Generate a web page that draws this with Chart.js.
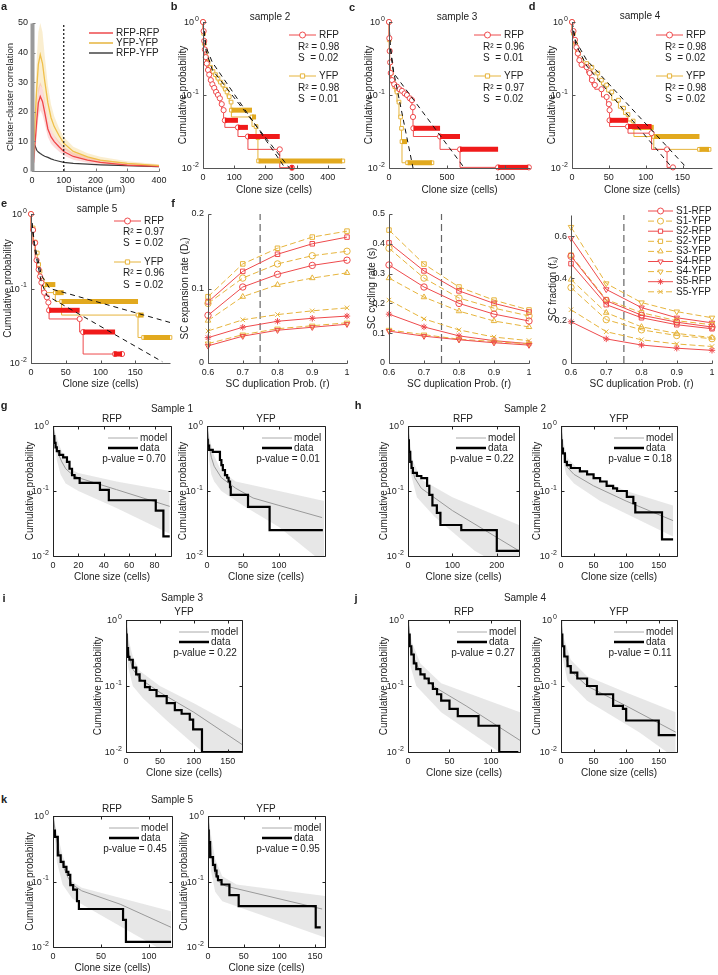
<!DOCTYPE html>
<html>
<head>
<meta charset="utf-8">
<script src="https://cdn.jsdelivr.net/npm/chart.js@4.4.1/dist/chart.umd.min.js"></script>
<style>
  body { margin: 0; background: #fff; width: 718px; height: 975px; position: relative; overflow: hidden;
         font-family: 'Liberation Sans', Arial, Helvetica, sans-serif; color: #222; }
  canvas { position: absolute; }
  .txt { position: absolute; white-space: nowrap; transform: translate(-50%, -50%); font-size: 10px; }
  .letter { position: absolute; font-size: 11px; font-weight: bold; transform: translate(-50%, -50%); }
</style>
</head>
<body>
<script>
// ---------- panel a: cluster-cluster correlation ----------
const distance   = [0, 5, 10, 15, 20, 26, 33, 40, 50, 60, 70, 85, 100, 130, 175, 215, 300, 400];
const rfpRfp     = [0.5, 3, 10, 17, 23, 25.2, 23.5, 19.8, 14.2, 11.5, 9.9, 8.2, 6.6, 4.9, 3.7, 2.9, 2.0, 1.6];
const rfpRfpHi   = [1, 5, 14, 22, 28, 30, 28, 24, 17.5, 14, 12, 10, 8.2, 6.2, 4.8, 3.8, 2.7, 2.1];
const rfpRfpLo   = [0, 1.2, 6, 12, 18, 20.5, 19, 16, 11.5, 9.2, 8, 6.6, 5.2, 3.8, 2.8, 2.2, 1.5, 1.2];
const yfpYfp     = [0.5, 6, 18, 28, 36, 39.3, 36.4, 30.5, 23, 18, 15, 12, 9.4, 6.6, 4.8, 3.7, 2.6, 1.8];
const yfpYfpHi   = [1, 9, 25, 38, 47, 50, 47, 39, 29, 22.5, 18.5, 14.5, 11.5, 8.2, 6, 4.8, 3.3, 2.3];
const yfpYfpLo   = [0, 3, 12, 19, 26, 29, 28, 23, 17.5, 14, 11.8, 9.5, 7.4, 5.2, 3.8, 2.9, 2, 1.4];
const rfpYfp     = [10.2, 9.2, 8.4, 7, 6.4, 5.9, 5.4, 5, 4.6, 4.1, 3.7, 3.3, 2.9, 2.6, 2.3, 2.1, 1.8, 1.5];
const distanceCutoff = 100;

// ---------- panels b-e: clone size distributions [size, cumulative prob] ----------
const s2Rfp = [[0,1],[2,0.75],[4,0.55],[6,0.42],[9,0.33],[12,0.27],[16,0.22],[20,0.19],[25,0.16],[30,0.14],[36,0.125],[42,0.11],[48,0.1],[54,0.09],[60,0.075],[66,0.062],[70,0.045],[112,0.036],[144,0.027],[246,0.018],[285,0.0101]];
const s2RfpBars = [[70,112,0.045],[112,144,0.036],[144,246,0.027],[280,290,0.0101]];
const s2Yfp = [[0,1],[2,0.7],[4,0.51],[8,0.38],[12,0.32],[16,0.28],[24,0.24],[32,0.21],[40,0.19],[48,0.17],[56,0.15],[64,0.137],[72,0.12],[77,0.11],[84,0.095],[90,0.08],[91,0.062],[157,0.05],[170,0.037],[176,0.026],[178,0.0125],[448,0.0125]];
const s2YfpBars = [[91,157,0.062],[157,170,0.05],[178,446,0.0125]];
const s2Fits = [[[0,1],[10,0.4],[30,0.22],[290,0.0085]], [[0,1],[10,0.45],[30,0.28],[263,0.01]]];

const s3Rfp = [[0,1],[3,0.6],[6,0.4],[10,0.28],[15,0.2],[26,0.16],[45,0.14],[69,0.13],[90,0.12],[112,0.114],[135,0.105],[155,0.1],[180,0.09],[198,0.085],[205,0.068],[207,0.05],[210,0.035],[440,0.027],[612,0.018],[940,0.0102],[1205,0.0102]];
const s3RfpBars = [[210,440,0.035],[440,612,0.027],[612,940,0.018],[940,1200,0.0102]];
const s3Yfp = [[0,1],[2,0.57],[5,0.4],[10,0.28],[20,0.2],[35,0.15],[50,0.13],[69,0.11],[86,0.08],[100,0.05],[108,0.035],[112,0.023],[160,0.0118],[370,0.0118]];
const s3YfpBars = [[112,155,0.023],[160,370,0.0118]];
const s3Fits = [[[0,1],[8,0.5],[30,0.25],[207,0.01]], [[0,1],[10,0.5],[40,0.2],[660,0.0095]]];

const s4Rfp = [[0,1],[2,0.75],[4,0.57],[6,0.45],[8,0.37],[10,0.3],[13,0.26],[20,0.24],[24,0.2],[27,0.16],[31,0.137],[40,0.12],[47,0.094],[50,0.075],[51,0.062],[51,0.045],[76,0.037],[108,0.03],[129,0.018],[137,0.0102]];
const s4RfpBars = [[51,76,0.045],[76,108,0.037]];
const s4Yfp = [[0,1],[2,0.7],[5,0.5],[9,0.37],[13,0.3],[20,0.27],[27,0.24],[35,0.2],[40,0.16],[47,0.137],[54,0.11],[63,0.085],[70,0.066],[76,0.054],[83,0.044],[84,0.036],[111,0.027],[173,0.018],[186,0.018]];
const s4YfpBars = [[84,111,0.036],[111,173,0.027],[173,186,0.018]];
const s4Fits = [[[0,1],[5,0.5],[20,0.25],[138,0.0095]], [[0,1],[5,0.55],[20,0.3],[158,0.0095]]];

const s5Rfp = [[0,1],[3,0.61],[6,0.41],[8,0.24],[11,0.18],[13,0.145],[15,0.12],[19,0.088],[23,0.076],[25,0.065],[26,0.051],[70,0.039],[75,0.026],[121,0.0132],[131,0.0132]];
const s5RfpBars = [[26,70,0.051],[75,121,0.026],[119,131,0.0132]];
const s5Yfp = [[0,1],[3,0.65],[6,0.42],[9,0.3],[11,0.21],[13,0.17],[16,0.13],[20,0.113],[35,0.088],[44,0.067],[154,0.044],[162,0.022],[200,0.022]];
const s5YfpBars = [[20,35,0.113],[35,47,0.088],[44,154,0.067],[154,162,0.044],[162,200,0.022]];
const s5Fits = [[[0,1],[5,0.4],[15,0.15],[27,0.1],[200,0.035]], [[0,1],[5,0.35],[15,0.12],[23,0.08],[189,0.0104]]];

// ---------- panel f: model parameters vs SC duplication probability ----------
const duplicationProb = [0.6, 0.7, 0.8, 0.9, 1.0];
const fLabels = ['S1-RFP', 'S1-YFP', 'S2-RFP', 'S2-YFP', 'S3-YFP', 'S4-RFP', 'S4-YFP', 'S5-RFP', 'S5-YFP'];
const expansionRate = [
  [0.064, 0.102, 0.119, 0.131, 0.138],
  [0.080, 0.114, 0.133, 0.144, 0.150],
  [0.082, 0.123, 0.146, 0.160, 0.169],
  [0.089, 0.133, 0.154, 0.169, 0.177],
  [0.057, 0.089, 0.105, 0.114, 0.121],
  [0.023, 0.036, 0.044, 0.048, 0.052],
  [0.026, 0.038, 0.046, 0.050, 0.054],
  [0.034, 0.048, 0.056, 0.060, 0.063],
  [0.043, 0.058, 0.065, 0.070, 0.074]
];
const cyclingRate = [
  [0.329, 0.255, 0.200, 0.164, 0.141],
  [0.385, 0.285, 0.218, 0.184, 0.158],
  [0.403, 0.309, 0.242, 0.200, 0.171],
  [0.446, 0.332, 0.255, 0.211, 0.178],
  [0.285, 0.221, 0.174, 0.141, 0.121],
  [0.107, 0.090, 0.078, 0.068, 0.060],
  [0.111, 0.095, 0.080, 0.072, 0.064],
  [0.164, 0.121, 0.091, 0.075, 0.065],
  [0.211, 0.148, 0.111, 0.087, 0.075]
];
const scFraction = [
  [0.505, 0.295, 0.226, 0.193, 0.170],
  [0.357, 0.205, 0.157, 0.130, 0.115],
  [0.470, 0.276, 0.214, 0.181, 0.162],
  [0.510, 0.300, 0.238, 0.200, 0.181],
  [0.395, 0.238, 0.171, 0.140, 0.120],
  [0.590, 0.348, 0.262, 0.214, 0.190],
  [0.643, 0.376, 0.286, 0.243, 0.214],
  [0.195, 0.114, 0.085, 0.070, 0.060],
  [0.252, 0.148, 0.110, 0.090, 0.078]
];
const duplicationCutoff = 0.75;

// ---------- panels g-k: model vs data [size, cumulative prob] ----------
const g1Data  = [[0,1],[1,0.7],[2,0.55],[3,0.47],[5,0.41],[8,0.36],[11,0.33],[13,0.28],[15,0.22],[17,0.176],[21,0.158],[37,0.133],[44,0.104],[81,0.072],[87,0.05],[92,0.02]];
const g1Model = [[0,1],[2,0.55],[4,0.38],[7,0.28],[10,0.22],[15,0.18],[20,0.16],[50,0.105],[92,0.058]];
const g1Hi    = [[0,1],[5,0.5],[10,0.3],[15,0.21],[20,0.19],[50,0.14],[92,0.1]];
const g1Lo    = [[0,1],[3,0.3],[6,0.18],[10,0.13],[20,0.1],[50,0.055],[92,0.022]];

const g2Data  = [[0,1],[1,0.61],[3,0.5],[8,0.43],[18,0.4],[20,0.3],[22,0.25],[25,0.21],[28,0.176],[30,0.16],[32,0.14],[33,0.115],[57,0.087],[87,0.057],[161,0.025]];
const g2Model = [[0,1],[3,0.5],[6,0.33],[10,0.24],[20,0.16],[40,0.11],[64,0.078],[100,0.06],[160,0.039]];
const g2Hi    = [[0,1],[5,0.55],[10,0.35],[20,0.2],[40,0.14],[100,0.1],[163,0.07]];
const g2Lo    = [[0,1],[3,0.3],[6,0.18],[10,0.14],[20,0.1],[50,0.06],[100,0.028],[150,0.01],[163,0.008]];

const h1Data  = [[0,1],[2,0.6],[5,0.4],[8,0.28],[11,0.226],[20,0.19],[30,0.17],[43,0.158],[48,0.12],[55,0.087],[65,0.06],[73,0.046],[120,0.03],[200,0.025],[250,0.012]];
const h1Model = [[0,1],[3,0.5],[8,0.25],[15,0.16],[30,0.11],[100,0.05],[250,0.012]];
const h1Hi    = [[0,1],[10,0.3],[30,0.15],[100,0.08],[250,0.03]];
const h1Lo    = [[0,1],[5,0.2],[20,0.08],[60,0.04],[150,0.012],[250,0.005]];

const h2Data  = [[0,1],[1,0.6],[3,0.45],[6,0.38],[9,0.28],[15,0.25],[29,0.226],[40,0.2],[50,0.18],[60,0.158],[70,0.14],[80,0.12],[86,0.11],[101,0.1],[111,0.081],[114,0.065],[155,0.047],[172,0.018]];
const h2Model = [[0,1],[3,0.45],[6,0.3],[10,0.23],[20,0.18],[50,0.12],[100,0.07],[172,0.035]];
const h2Hi    = [[0,1],[5,0.5],[10,0.32],[30,0.2],[100,0.1],[172,0.06]];
const h2Lo    = [[0,1],[3,0.3],[8,0.18],[20,0.13],[60,0.07],[172,0.02]];

const iData   = [[0,1],[1,0.6],[3,0.376],[5,0.276],[10,0.25],[15,0.19],[20,0.15],[28,0.12],[35,0.096],[45,0.087],[60,0.07],[72,0.055],[82,0.043],[94,0.038],[99,0.031],[112,0.022],[171,0.01]];
const iModel  = [[0,1],[3,0.4],[6,0.25],[10,0.18],[20,0.13],[50,0.08],[100,0.04],[171,0.013]];
const iHi     = [[0,1],[5,0.45],[10,0.28],[20,0.17],[50,0.1],[100,0.055],[171,0.022]];
const iLo     = [[0,1],[3,0.2],[10,0.1],[25,0.065],[60,0.03],[113,0.01],[171,0.004]];

const j1Data  = [[0,1],[2,0.6],[4,0.4],[7,0.3],[10,0.22],[15,0.18],[20,0.15],[25,0.13],[30,0.11],[35,0.09],[40,0.075],[50,0.06],[60,0.045],[85,0.035],[110,0.025],[133,0.01]];
const j1Model = [[0,1],[3,0.45],[8,0.25],[15,0.16],[30,0.1],[70,0.05],[135,0.015]];
const j1Hi    = [[0,1],[5,0.45],[15,0.22],[40,0.11],[135,0.04]];
const j1Lo    = [[0,1],[3,0.2],[10,0.1],[40,0.04],[110,0.01],[135,0.006]];

const j2Data  = [[0,1],[2,0.6],[5,0.4],[10,0.28],[15,0.2],[25,0.16],[40,0.13],[55,0.1],[80,0.075],[95,0.05],[100,0.045],[150,0.03],[176,0.018]];
const j2Model = [[0,1],[3,0.45],[8,0.25],[15,0.17],[40,0.1],[100,0.05],[176,0.02]];
const j2Hi    = [[0,1],[5,0.5],[15,0.25],[40,0.14],[100,0.08],[176,0.04]];
const j2Lo    = [[0,1],[3,0.25],[10,0.12],[40,0.06],[120,0.02],[176,0.008]];

const k1Data  = [[0,1],[2,0.6],[5,0.48],[8,0.25],[11,0.2],[14,0.167],[16,0.14],[18,0.126],[21,0.088],[25,0.075],[27,0.05],[73,0.038],[76,0.026],[123,0.012]];
const k1Model = [[0,1],[3,0.5],[6,0.3],[10,0.18],[15,0.12],[20,0.09],[30,0.072],[70,0.045],[123,0.02]];
const k1Hi    = [[0,1],[5,0.5],[10,0.25],[20,0.1],[30,0.08],[123,0.035]];
const k1Lo    = [[0,1],[4,0.2],[10,0.09],[20,0.055],[30,0.045],[108,0.01],[123,0.008]];

const k2Data  = [[0,1],[1,0.6],[3,0.4],[7,0.236],[10,0.18],[12,0.147],[14,0.12],[19,0.105],[30,0.09],[43,0.062],[151,0.042],[158,0.02]];
const k2Model = [[0,1],[3,0.4],[6,0.2],[10,0.13],[15,0.1],[25,0.085],[160,0.038]];
const k2Hi    = [[0,1],[5,0.45],[10,0.22],[20,0.12],[40,0.09],[164,0.06]];
const k2Lo    = [[0,1],[4,0.15],[10,0.07],[20,0.05],[164,0.014]];

const LOG_TICKS = [0.01, 0.1, 1];

// ---------- styling ----------
const FONT = "'Liberation Sans', Arial, Helvetica, sans-serif";
const RED = '#ee4a4c', YEL = '#e6b43c', RED_BAR = '#f01a1a', YEL_BAR = '#e2a91e';
const BAND = 'rgba(212,212,212,0.55)';

Chart.defaults.font.family = FONT;
Chart.defaults.font.size = 9;
Chart.defaults.color = '#222';

// axes drawn by hand: left/bottom (or full box), inward ticks, tick labels and titles
function drawPow(ctx, v, xRight, y) {
  const exp = String(Math.round(Math.log10(v)));
  ctx.font = `7px ${FONT}`;
  const ew = ctx.measureText(exp).width;
  ctx.font = `9px ${FONT}`;
  const bw = ctx.measureText('10').width;
  ctx.textAlign = 'left';
  ctx.fillText('10', xRight - ew - bw - 1, y + 1);
  ctx.font = `7px ${FONT}`;
  ctx.fillText(exp, xRight - ew, y - 3);
}

const framePlugin = {
  id: 'frame',
  afterDraw(chart, args, o) {
    const { ctx, chartArea: a, scales: { x, y } } = chart;
    const L = Math.round(a.left) + 0.5, R = Math.round(a.right) + 0.5;
    const T = Math.round(a.top) + 0.5, B = Math.round(a.bottom) + 0.5;
    ctx.save();
    ctx.strokeStyle = o.color || '#555';
    ctx.lineWidth = 1;
    ctx.beginPath();
    ctx.moveTo(L, B); ctx.lineTo(R, B);
    if (o.box) { ctx.moveTo(L, T); ctx.lineTo(R, T); ctx.moveTo(R, T); ctx.lineTo(R, B); }
    x.ticks.forEach(t => {
      const px = Math.round(x.getPixelForValue(t.value)) + 0.5;
      ctx.moveTo(px, B); ctx.lineTo(px, B - 3);
      if (o.box) { ctx.moveTo(px, T); ctx.lineTo(px, T + 3); }
    });
    y.ticks.forEach(t => {
      const py = Math.round(y.getPixelForValue(t.value)) + 0.5;
      ctx.moveTo(L, py); ctx.lineTo(L + 3, py);
      if (o.box) { ctx.moveTo(R, py); ctx.lineTo(R - 3, py); }
    });
    ctx.stroke();
    ctx.beginPath();
    ctx.lineWidth = o.leftWidth || 1;
    ctx.strokeStyle = o.leftColor || o.color || '#555';
    ctx.moveTo(L, T); ctx.lineTo(L, B);
    ctx.stroke();

    // tick labels
    ctx.fillStyle = '#222';
    ctx.textBaseline = 'middle';
    ctx.font = `9px ${FONT}`;
    ctx.textAlign = 'center';
    x.ticks.forEach(t => ctx.fillText(String(t.value), x.getPixelForValue(t.value), a.bottom + 10));
    y.ticks.forEach(t => {
      const py = y.getPixelForValue(t.value);
      if (o.log) drawPow(ctx, t.value, a.left - 4, py);
      else { ctx.font = `9px ${FONT}`; ctx.textAlign = 'right'; ctx.fillText(String(t.value), a.left - 4, py); }
    });

    // axis titles
    ctx.font = `${o.titleSize || 10}px ${FONT}`;
    ctx.textAlign = 'center';
    if (o.xTitle) ctx.fillText(o.xTitle, (a.left + a.right) / 2, a.bottom + o.xOff);
    if (o.yTitle) {
      ctx.translate(a.left - o.yOff, (a.top + a.bottom) / 2);
      ctx.rotate(-Math.PI / 2);
      ctx.fillText(o.yTitle, 0, 0);
    }
    ctx.restore();
  }
};

// legend entries drawn relative to the plot box (x from right edge, y from top edge)
const legendPlugin = {
  id: 'panelLegend',
  afterDraw(chart, args, o) {
    if (!o || !o.items) return;
    const { ctx, chartArea: a } = chart;
    ctx.save();
    ctx.font = `${o.size || 10}px ${FONT}`;
    ctx.textBaseline = 'middle';
    o.items.forEach(it => {
      const y = a.top + it.y;
      if (it.color) {
        ctx.strokeStyle = it.color;
        ctx.lineWidth = it.width || 1;
        ctx.setLineDash(it.dash || []);
        ctx.beginPath();
        ctx.moveTo(a.right + o.x0, y); ctx.lineTo(a.right + o.x1, y);
        ctx.stroke();
        ctx.setLineDash([]);
        if (it.marker) {
          ctx.fillStyle = '#fff';
          ctx.lineWidth = 1;
          Chart.helpers.drawPoint(ctx, { pointStyle: it.marker, radius: 3, rotation: it.rot || 0, borderWidth: 1 },
            a.right + (o.x0 + o.x1) / 2, y);
        }
      }
      ctx.fillStyle = '#222';
      ctx.textAlign = it.align || 'left';
      ctx.fillText(it.text, a.right + (it.x !== undefined ? it.x : o.tx), y);
    });
    ctx.restore();
  }
};

Chart.register(framePlugin, legendPlugin);

function ptsOf(arr) { return arr.map(([x, y]) => ({ x, y })); }
function zip(xs, ys) { return xs.map((x, i) => ({ x, y: ys[i] })); }

// scales take no room: the plot box is fixed by the layout padding
function axis(isX, min, max, ticks, log) {
  return {
    type: log ? 'logarithmic' : 'linear',
    position: isX ? 'bottom' : 'left',
    min, max,
    afterBuildTicks: s => { s.ticks = ticks.map(v => ({ value: v })); },
    afterFit: s => {
      if (isX) s.height = 0; else s.width = 0;
      s.paddingLeft = s.paddingRight = s.paddingTop = s.paddingBottom = 0;
    },
    ticks: { display: false },
    grid: { display: false },
    border: { display: false },
    title: { display: false }
  };
}

function plot(box, o) {
  const [l, t, r, b] = box;
  const ml = Math.min(l, 40), mt = Math.min(t, 16), mr = Math.min(718 - r, 10), mb = 32;
  const w = r - l + ml + mr, h = b - t + mt + mb;
  const cv = document.createElement('canvas');
  cv.width = w; cv.height = h;
  Object.assign(cv.style, { left: (l - ml) + 'px', top: (t - mt) + 'px', width: w + 'px', height: h + 'px' });
  document.body.appendChild(cv);
  return new Chart(cv, {
    type: 'line',
    data: { datasets: o.datasets },
    options: {
      responsive: false, animation: false, devicePixelRatio: 1,
      layout: { padding: { top: mt, right: mr, left: ml, bottom: mb } },
      elements: { line: { tension: 0 } },
      plugins: {
        legend: { display: false }, tooltip: { enabled: false },
        frame: o.frame || {}, panelLegend: o.legend || {}
      },
      scales: { x: o.x, y: o.y }
    }
  });
}

function text(str, x, y, cls) {
  const d = document.createElement('div');
  d.className = cls || 'txt';
  d.textContent = str;
  d.style.left = x + 'px'; d.style.top = y + 'px';
  document.body.appendChild(d);
}

// ---------- panel a ----------
function band(hi, lo, color) {
  return [
    { data: zip(distance, hi), fill: '+1', backgroundColor: color, borderWidth: 0, pointRadius: 0, order: 5 },
    { data: zip(distance, lo), fill: false, borderWidth: 0, pointRadius: 0, order: 5 }
  ];
}
plot([32, 23, 159, 171], {
  x: axis(true, 0, 400, [0, 100, 200, 300, 400]),
  y: axis(false, 0, 50, [0, 10, 20, 30, 40, 50]),
  frame: { color: '#777', leftWidth: 4, leftColor: '#9a9a9a', titleSize: 9.5,
           xTitle: 'Distance (μm)', xOff: 18, yTitle: 'Cluster-cluster correlation', yOff: 22 },
  legend: { x0: -70, x1: -46, tx: -43, items: [
    { y: 10, color: RED, width: 1.5, text: 'RFP-RFP' },
    { y: 20, color: YEL, width: 1.5, text: 'YFP-YFP' },
    { y: 30, color: '#444', width: 1.5, text: 'RFP-YFP' }
  ] },
  datasets: [
    ...band(rfpRfpHi, rfpRfpLo, 'rgba(240,90,90,0.22)'),
    ...band(yfpYfpHi, yfpYfpLo, 'rgba(240,200,100,0.3)'),
    { data: zip(distance, rfpYfp), borderColor: '#3c3c3c', borderWidth: 1.2, pointRadius: 0, order: 2 },
    { data: zip(distance, yfpYfp), borderColor: '#f0c04a', borderWidth: 1.3, pointRadius: 0, order: 1 },
    { data: zip(distance, rfpRfp), borderColor: '#f04646', borderWidth: 1.3, pointRadius: 0, order: 1 },
    { data: [{ x: distanceCutoff, y: 0 }, { x: distanceCutoff, y: 50 }], borderColor: '#111', borderWidth: 1.2, borderDash: [2, 2], pointRadius: 0, order: 0 }
  ]
});

// ---------- panels b-e ----------
function stepSet(data, color, style) {
  return { data: ptsOf(data), stepped: 'after', borderColor: color, borderWidth: 1, pointStyle: style, pointRadius: 2.6,
           pointBorderColor: color, pointBackgroundColor: '#fff', pointBorderWidth: 1, clip: 6, order: 2 };
}
function barSets(bars, color) {
  return bars.map(([x0, x1, p]) => ({ data: [{ x: x0, y: p }, { x: x1, y: p }], borderColor: color, borderWidth: 5,
                                       pointRadius: 0, clip: 6, order: 1 }));
}
function fitSets(fits) {
  return fits.map(f => ({ data: ptsOf(f), borderColor: '#111', borderWidth: 1, borderDash: [5, 4], pointRadius: 0, order: 0 }));
}
function cumPanel(box, xmax, xticks, yOff, xOff, rfp, rfpBars, yfp, yfpBars, fits, stats, ly) {
  plot(box, {
    x: axis(true, 0, xmax, xticks),
    y: axis(false, 0.01, 1, LOG_TICKS, true),
    frame: { color: '#555', log: true, xTitle: 'Clone size (cells)', xOff, yTitle: 'Cumulative probability', yOff },
    legend: { x0: -56, x1: -29, tx: -26, items: [
      { y: ly[0], color: RED, marker: 'circle', text: 'RFP' },
      { y: ly[1], text: 'R² = ' + stats[0], x: -47 },
      { y: ly[2], text: 'S  = ' + stats[1], x: -47 },
      { y: ly[3], color: YEL, marker: 'rect', text: 'YFP' },
      { y: ly[4], text: 'R² = ' + stats[2], x: -47 },
      { y: ly[5], text: 'S  = ' + stats[3], x: -47 }
    ] },
    datasets: [
      stepSet(rfp, RED, 'circle'), ...barSets(rfpBars, RED_BAR),
      stepSet(yfp, YEL, 'rect'), ...barSets(yfpBars, YEL_BAR),
      ...fitSets(fits)
    ]
  });
}
const LY_TOP = [13, 25, 36, 54, 66, 77];
cumPanel([203, 22, 345, 168], 455, [0, 100, 200, 300, 400], 20, 22, s2Rfp, s2RfpBars, s2Yfp, s2YfpBars, s2Fits, ['0.98', '0.02', '0.98', '0.01'], LY_TOP);
cumPanel([389, 22, 530, 168], 1215, [0, 500, 1000], 20, 22, s3Rfp, s3RfpBars, s3Yfp, s3YfpBars, s3Fits, ['0.96', '0.01', '0.97', '0.02'], LY_TOP);
cumPanel([572, 22, 712, 168], 190, [0, 50, 100, 150], 20, 22, s4Rfp, s4RfpBars, s4Yfp, s4YfpBars, s4Fits, ['0.98', '0.02', '0.98', '0.02'], LY_TOP);
cumPanel([31, 214, 170, 363], 200, [0, 50, 100, 150], 23, 21, s5Rfp, s5RfpBars, s5Yfp, s5YfpBars, s5Fits, ['0.97', '0.02', '0.96', '0.02'], [7, 18, 29, 48, 59, 71]);

// ---------- panel f ----------
const fStyles = [
  { color: RED, marker: 'circle' }, { color: YEL, marker: 'circle', dash: [6, 3] },
  { color: RED, marker: 'rect' },   { color: YEL, marker: 'rect', dash: [6, 3] },
  { color: YEL, marker: 'triangle', dash: [6, 3] },
  { color: RED, marker: 'triangle', rot: 180 }, { color: YEL, marker: 'triangle', rot: 180, dash: [6, 3] },
  { color: RED, marker: 'star' },   { color: YEL, marker: 'crossRot', dash: [6, 3] }
];
function paramPanel(box, values, ymax, yticks, title, yOff, legend) {
  const sets = values.map((v, i) => {
    const s = fStyles[i];
    return { data: zip(duplicationProb, v), borderColor: s.color, borderDash: s.dash || [], borderWidth: 1,
             pointStyle: s.marker, pointRotation: s.rot || 0, pointRadius: 3.2, pointBorderColor: s.color,
             pointBackgroundColor: 'rgba(255,255,255,0)', pointBorderWidth: 1, clip: 5, order: 2 };
  });
  sets.push({ data: [{ x: duplicationCutoff, y: 0 }, { x: duplicationCutoff, y: ymax }], borderColor: '#666',
              borderWidth: 1.2, borderDash: [7, 4], pointRadius: 0, order: 3 });
  plot(box, {
    x: axis(true, 0.6, 1, duplicationProb),
    y: axis(false, 0, ymax, yticks),
    frame: { color: '#555', xTitle: 'SC duplication Prob. (r)', xOff: 21, yTitle: title, yOff },
    legend,
    datasets: sets
  });
}
paramPanel([208, 214, 347, 363], expansionRate, 0.2, [0, 0.1, 0.2], 'SC expansion rate (Dₛ)', 23, null);
paramPanel([389, 214, 529, 363], cyclingRate, 0.5, [0, 0.1, 0.2, 0.3, 0.4, 0.5], 'SC cycling rate (s)', 17, null);
paramPanel([571, 215, 712, 363], scFraction, 0.7, [0, 0.2, 0.4, 0.6], 'SC fraction (fₛ)', 18, {
  x0: -64, x1: -39, tx: -36,
  items: fLabels.map((name, i) => ({ y: -4 + i * 10.1, color: fStyles[i].color, dash: fStyles[i].dash,
                                     marker: fStyles[i].marker, rot: fStyles[i].rot, text: name }))
});

// ---------- panels g-k ----------
function fitPanel(box, xmax, xticks, yOff, data, model, hi, lo, pval) {
  plot(box, {
    x: axis(true, 0, xmax, xticks),
    y: axis(false, 0.01, 1, LOG_TICKS, true),
    frame: { box: true, color: '#222', log: true, xTitle: 'Clone size (cells)', xOff: 21, yTitle: 'Cumulative probability', yOff },
    legend: { x0: -63, x1: -33, tx: -31, items: [
      { y: 12, color: '#aaa', width: 1, text: 'model' },
      { y: 22, color: '#000', width: 2.5, text: 'data' },
      { y: 33, text: 'p-value = ' + pval, x: -37, align: 'center' }
    ] },
    datasets: [
      { data: ptsOf(hi), fill: '+1', backgroundColor: BAND, borderWidth: 0, pointRadius: 0, order: 5 },
      { data: ptsOf(lo), fill: false, borderWidth: 0, pointRadius: 0, order: 5 },
      { data: ptsOf(model), borderColor: '#999', borderWidth: 1, pointRadius: 0, order: 3 },
      { data: ptsOf(data), stepped: 'after', borderColor: '#000', borderWidth: 2.2, pointRadius: 0, order: 1 }
    ]
  });
}
fitPanel([53, 426, 171, 556], 93, [0, 20, 40, 60, 80], 23, g1Data, g1Model, g1Hi, g1Lo, '0.70');
fitPanel([207, 426, 325, 556], 164, [0, 50, 100], 24, g2Data, g2Model, g2Hi, g2Lo, '0.01');
fitPanel([408, 426, 519, 556], 250, [0, 100, 200], 24, h1Data, h1Model, h1Hi, h1Lo, '0.22');
fitPanel([561, 426, 677, 556], 178, [0, 50, 100, 150], 24, h2Data, h2Model, h2Hi, h2Lo, '0.18');
fitPanel([126, 620, 242, 752], 171, [0, 50, 100, 150], 28, iData, iModel, iHi, iLo, '0.22');
fitPanel([408, 620, 520, 752], 135, [0, 50, 100], 24, j1Data, j1Model, j1Hi, j1Lo, '0.27');
fitPanel([561, 620, 677, 752], 178, [0, 50, 100, 150], 24, j2Data, j2Model, j2Hi, j2Lo, '0.11');
fitPanel([53, 816, 172, 947], 124, [0, 50, 100], 23, k1Data, k1Model, k1Hi, k1Lo, '0.45');
fitPanel([208, 816, 325, 947], 164, [0, 50, 100, 150], 24, k2Data, k2Model, k2Hi, k2Lo, '0.95');

// ---------- titles and panel letters ----------
[['a', 4, 6], ['b', 174, 6], ['c', 352, 7], ['d', 532, 6], ['e', 4, 203], ['f', 173, 203],
 ['g', 4, 405], ['h', 358, 405], ['i', 4, 598], ['j', 356, 598], ['k', 4, 799]]
  .forEach(([s, x, y]) => text(s, x, y, 'letter'));
[['sample 2', 270, 16], ['sample 3', 457, 16], ['sample 4', 640, 15], ['sample 5', 97, 208],
 ['Sample 1', 172, 408], ['Sample 2', 525, 408], ['Sample 3', 182, 597], ['Sample 4', 525, 597], ['Sample 5', 172, 799],
 ['RFP', 112, 418], ['YFP', 266, 418], ['RFP', 463, 418], ['YFP', 619, 418],
 ['YFP', 184, 611], ['RFP', 464, 611], ['YFP', 619, 611],
 ['RFP', 112, 808], ['YFP', 266, 808]]
  .forEach(([s, x, y]) => text(s, x, y));
</script>
</body>
</html>
